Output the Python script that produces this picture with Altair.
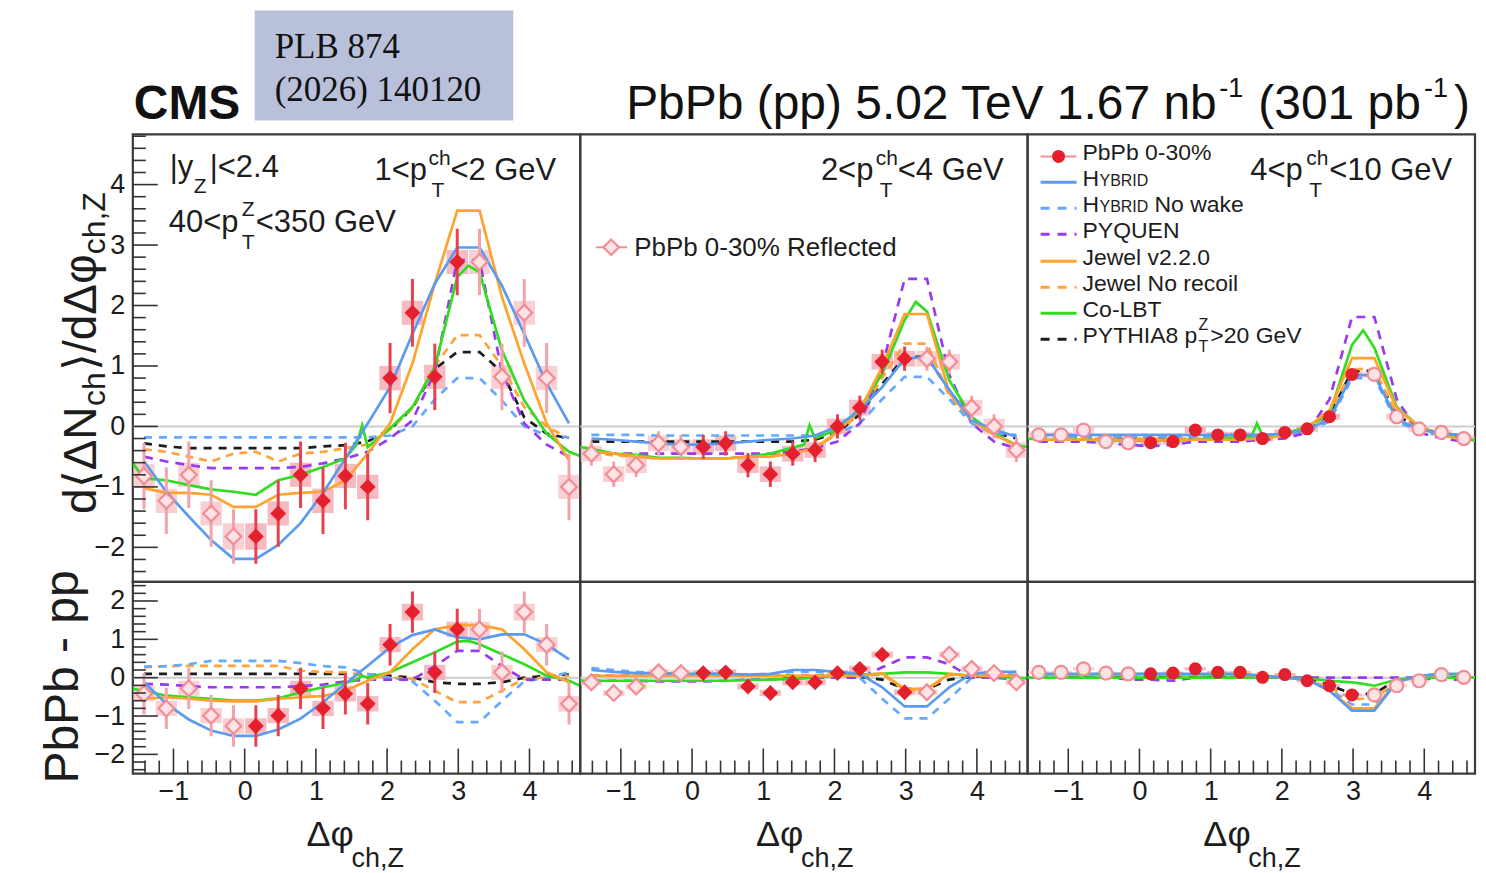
import math
import altair as alt
import pandas as pd

FONT = "Liberation Sans"
SERIF = "Liberation Serif"
INK = "#1d1d1d"

# ---------------------------------------------------------------- data
# measured bins (0..pi), model grid (full range) and Co-LBT grid
BINS = [0.157, 0.471, 0.785, 1.100, 1.414, 1.728, 2.042, 2.356, 2.670, 2.985]
GRID = [-1.414, -1.100, -0.785, -0.471, -0.157, 0.157, 0.471, 0.785, 1.100, 1.414,
        1.728, 2.042, 2.356, 2.670, 2.985, 3.299, 3.613, 3.927, 4.241, 4.555]
CGRID = [-1.571, -1.414, -1.100, -0.785, -0.471, -0.157, 0.157, 0.471, 0.785, 1.100,
         1.414, 1.571, 1.650, 1.728, 2.042, 2.356, 2.670, 2.985, 3.142, 3.299,
         3.613, 3.927, 4.241, 4.555, 4.712]

# ---- top row, 1 < pT < 2 GeV
P1_DATA = [-1.82, -1.44, -0.80, -1.23, -0.82, -1.00, 0.80, 1.88, 0.82, 2.72]
P1_STAT = [0.45, 0.55, 0.55, 0.55, 0.55, 0.55, 0.58, 0.56, 0.55, 0.55]
P1_SYS = [0.22, 0.20, 0.20, 0.20, 0.20, 0.20, 0.20, 0.20, 0.20, 0.20]
P1_HYB = [-0.58, -1.08, -1.49, -1.88, -2.19, -2.19, -1.96, -1.60, -1.10, -0.53,
          0.05, 0.65, 1.53, 2.36, 2.96, 2.96, 2.33, 1.53, 0.71, 0.05]
P1_NOW = [-0.18, -0.18, -0.18, -0.18, -0.18, -0.18, -0.18, -0.18, -0.18, -0.18,
          -0.18, -0.15, 0.00, 0.45, 0.80, 0.80, 0.43, 0.00, -0.15, -0.18]
P1_PYQ = [-0.50, -0.58, -0.64, -0.69, -0.69, -0.69, -0.69, -0.67, -0.61, -0.53,
          -0.42, -0.20, 0.10, 0.90, 2.75, 2.75, 0.90, 0.05, -0.30, -0.50]
P1_JEW = [-1.02, -1.10, -1.10, -1.13, -1.33, -1.33, -1.13, -1.10, -1.08, -0.89,
          -0.45, 0.05, 1.04, 2.36, 3.57, 3.57, 2.14, 1.04, 0.05, -0.56]
P1_JNR = [-0.38, -0.42, -0.50, -0.58, -0.45, -0.42, -0.58, -0.45, -0.42, -0.36,
          -0.30, -0.05, 0.30, 1.00, 1.51, 1.51, 1.00, 0.32, 0.00, -0.20]
P1_PY8 = [-0.28, -0.33, -0.36, -0.36, -0.36, -0.36, -0.36, -0.36, -0.33, -0.31,
          -0.25, -0.05, 0.30, 0.95, 1.23, 1.23, 0.90, 0.15, -0.12, -0.20]
P1_CLBT = [-0.61, -0.86, -0.89, -0.97, -1.04, -1.08, -1.13, -0.89, -0.80, -0.67,
           -0.53, -0.30, 0.02, -0.34, -0.03, 0.32, 0.98, 2.47, 2.66, 2.55,
           1.26, 0.43, -0.12, -0.42, -0.49]

# ---- top row, 2 < pT < 4 GeV
P2_DATA = [-0.34, -0.28, -0.64, -0.79, -0.45, -0.39, 0.00, 0.31, 1.07, 1.12]
P2_STAT = [0.20, 0.20, 0.20, 0.21, 0.20, 0.20, 0.20, 0.20, 0.20, 0.20]
P2_SYS = [0.13, 0.13, 0.13, 0.13, 0.13, 0.13, 0.13, 0.13, 0.13, 0.13]
P2_HYB = [-0.20, -0.22, -0.25, -0.28, -0.30, -0.30, -0.28, -0.25, -0.22, -0.20,
          -0.15, 0.00, 0.27, 0.65, 1.12, 1.15, 0.60, 0.10, -0.05, -0.17]
P2_NOW = [-0.14, -0.14, -0.14, -0.15, -0.15, -0.15, -0.15, -0.15, -0.15, -0.15,
          -0.15, -0.12, 0.05, 0.45, 0.82, 0.82, 0.45, 0.05, -0.12, -0.14]
P2_PYQ = [-0.42, -0.45, -0.45, -0.45, -0.45, -0.45, -0.45, -0.45, -0.45, -0.42,
          -0.36, -0.25, 0.05, 0.98, 2.44, 2.44, 0.85, 0.05, -0.25, -0.36]
P2_JEW = [-0.42, -0.45, -0.50, -0.53, -0.53, -0.53, -0.53, -0.50, -0.50, -0.45,
          -0.36, -0.09, 0.27, 0.98, 1.86, 1.86, 0.55, 0.10, -0.14, -0.31]
P2_JNR = [-0.42, -0.48, -0.50, -0.53, -0.53, -0.53, -0.53, -0.50, -0.48, -0.42,
          -0.36, -0.12, 0.22, 0.80, 1.37, 1.37, 0.50, 0.08, -0.14, -0.30]
P2_PY8 = [-0.25, -0.25, -0.25, -0.25, -0.25, -0.25, -0.25, -0.25, -0.25, -0.25,
          -0.22, -0.10, 0.20, 0.70, 1.15, 1.15, 0.60, 0.10, -0.10, -0.20]
P2_CLBT = [-0.34, -0.37, -0.45, -0.47, -0.52, -0.52, -0.53, -0.53, -0.50, -0.45,
           -0.35, -0.30, 0.02, -0.20, -0.05, 0.30, 0.87, 1.76, 2.06, 1.90,
           0.76, 0.16, -0.12, -0.31, -0.34]

# ---- top row, 4 < pT < 10 GeV
P3_DATA = [-0.27, -0.25, -0.06, -0.14, -0.14, -0.20, -0.10, -0.04, 0.16, 0.86]
P3_STAT = [0.06, 0.06, 0.06, 0.06, 0.06, 0.06, 0.06, 0.06, 0.06, 0.06]
P3_SYS = [0.05, 0.05, 0.05, 0.05, 0.05, 0.05, 0.05, 0.05, 0.05, 0.05]
P3_HYB = [-0.14, -0.14, -0.14, -0.14, -0.14, -0.14, -0.14, -0.14, -0.14, -0.14,
          -0.14, -0.12, -0.05, 0.12, 0.85, 0.85, 0.12, -0.05, -0.12, -0.14]
P3_NOW = [-0.17, -0.17, -0.17, -0.17, -0.17, -0.17, -0.17, -0.17, -0.17, -0.17,
          -0.17, -0.15, -0.08, 0.08, 0.80, 0.80, 0.08, -0.08, -0.15, -0.17]
P3_PYQ = [-0.25, -0.25, -0.25, -0.28, -0.30, -0.33, -0.30, -0.25, -0.25, -0.25,
          -0.22, -0.20, -0.10, 0.45, 1.81, 1.81, 0.45, -0.10, -0.20, -0.25]
P3_JEW = [-0.22, -0.22, -0.22, -0.22, -0.22, -0.22, -0.22, -0.22, -0.22, -0.22,
          -0.20, -0.15, -0.02, 0.27, 1.13, 1.13, 0.30, 0.00, -0.15, -0.22]
P3_JNR = [-0.20, -0.20, -0.20, -0.20, -0.20, -0.20, -0.20, -0.20, -0.20, -0.20,
          -0.18, -0.14, -0.03, 0.20, 0.95, 0.95, 0.20, -0.03, -0.14, -0.20]
P3_PY8 = [-0.18, -0.18, -0.18, -0.18, -0.18, -0.18, -0.18, -0.18, -0.18, -0.18,
          -0.17, -0.12, -0.02, 0.18, 0.92, 0.92, 0.18, -0.02, -0.12, -0.18]
P3_CLBT = [-0.20, -0.22, -0.22, -0.22, -0.23, -0.23, -0.23, -0.23, -0.22, -0.20,
           -0.18, -0.17, 0.05, -0.15, -0.12, 0.00, 0.21, 1.35, 1.59, 1.30,
           0.32, 0.00, -0.15, -0.20, -0.23]

# ---- bottom row (PbPb - pp), 1 < pT < 2 GeV
P4_DATA = [-1.26, -0.99, -0.28, -0.80, -0.42, -0.68, 0.86, 1.71, 0.14, 1.26]
P4_STAT = [0.54, 0.54, 0.54, 0.54, 0.54, 0.54, 0.54, 0.54, 0.54, 0.54]
P4_SYS = [0.20, 0.20, 0.20, 0.20, 0.20, 0.20, 0.20, 0.22, 0.20, 0.20]
P4_HYB = [-0.12, -0.68, -1.09, -1.38, -1.52, -1.52, -1.35, -1.07, -0.64, -0.16,
          0.31, 0.79, 1.11, 1.26, 1.05, 1.00, 1.13, 1.13, 0.87, 0.48]
P4_NOW = [0.29, 0.30, 0.35, 0.44, 0.44, 0.44, 0.44, 0.38, 0.30, 0.27,
          0.10, 0.00, -0.10, -0.60, -1.16, -1.16, -0.60, -0.10, 0.00, 0.14]
P4_PYQ = [-0.16, -0.18, -0.22, -0.25, -0.25, -0.25, -0.25, -0.22, -0.18, -0.10,
          -0.05, -0.05, -0.05, 0.30, 0.70, 0.70, 0.30, -0.05, -0.05, -0.05]
P4_JEW = [-0.55, -0.51, -0.55, -0.60, -0.62, -0.62, -0.55, -0.51, -0.48, -0.34,
          -0.08, 0.14, 0.74, 1.26, 1.37, 1.37, 1.26, 0.74, 0.14, -0.12]
P4_JNR = [0.27, 0.30, 0.31, 0.31, 0.31, 0.31, 0.31, 0.18, 0.15, 0.14,
          0.05, 0.00, -0.03, -0.34, -0.64, -0.64, -0.34, -0.03, 0.00, 0.05]
P4_PY8 = [0.10, 0.10, 0.10, 0.10, 0.10, 0.10, 0.10, 0.10, 0.10, 0.10,
          0.08, 0.05, 0.00, -0.12, -0.16, -0.16, -0.12, 0.00, 0.05, 0.08]
P4_CLBT = [-0.29, -0.34, -0.47, -0.51, -0.55, -0.60, -0.60, -0.54, -0.38, -0.25,
           -0.14, -0.05, 0.05, 0.00, 0.14, 0.40, 0.66, 0.94, 0.96, 0.87,
           0.61, 0.35, 0.05, -0.08, -0.21]

# ---- bottom row, 2 < pT < 4 GeV
P5_DATA = [0.12, 0.14, -0.23, -0.40, -0.12, -0.12, 0.12, 0.23, 0.60, -0.38]
P5_STAT = [0.10, 0.10, 0.10, 0.10, 0.10, 0.10, 0.10, 0.10, 0.10, 0.10]
P5_SYS = [0.08, 0.08, 0.08, 0.08, 0.08, 0.08, 0.08, 0.08, 0.08, 0.08]
P5_HYB = [0.20, 0.15, 0.12, 0.12, 0.10, 0.10, 0.10, 0.08, 0.10, 0.20,
          0.20, 0.15, 0.10, -0.25, -0.75, -0.75, -0.25, 0.10, 0.15, 0.15]
P5_NOW = [0.25, 0.20, 0.15, 0.12, 0.10, 0.10, 0.10, 0.08, 0.10, 0.15,
          0.15, 0.12, 0.00, -0.55, -1.06, -1.06, -0.55, 0.00, 0.10, 0.15]
P5_PYQ = [-0.08, -0.08, -0.08, -0.10, -0.10, -0.10, -0.08, -0.05, -0.05, 0.00,
          0.00, 0.00, 0.00, 0.27, 0.53, 0.53, 0.35, 0.00, 0.00, -0.05]
P5_JEW = [0.05, 0.05, 0.05, 0.05, 0.05, 0.05, 0.05, 0.05, 0.05, 0.05,
          0.05, 0.05, 0.05, 0.12, -0.29, -0.29, 0.10, 0.05, 0.05, 0.05]
P5_JNR = [0.05, 0.05, 0.05, 0.05, 0.05, 0.05, 0.05, 0.05, 0.05, 0.05,
          0.05, 0.05, 0.05, 0.08, -0.32, -0.32, 0.08, 0.05, 0.05, 0.05]
P5_PY8 = [0.05, 0.05, 0.05, 0.05, 0.05, 0.05, 0.05, 0.05, 0.05, 0.05,
          0.05, 0.05, 0.02, -0.05, -0.30, -0.30, -0.05, 0.02, 0.05, 0.05]
P5_CLBT = [-0.08, -0.08, -0.08, -0.08, -0.08, -0.08, -0.08, -0.08, -0.06, -0.05,
           -0.03, -0.02, 0.00, 0.00, 0.05, 0.08, 0.10, 0.14, 0.14, 0.14,
           0.10, 0.05, 0.02, 0.00, -0.02]

# ---- bottom row, 4 < pT < 10 GeV
P6_DATA = [0.10, 0.12, 0.23, 0.14, 0.14, 0.01, 0.08, -0.08, -0.21, -0.45]
P6_STAT = [0.04, 0.04, 0.04, 0.04, 0.04, 0.04, 0.04, 0.04, 0.04, 0.05]
P6_SYS = [0.04, 0.04, 0.04, 0.04, 0.04, 0.04, 0.04, 0.04, 0.04, 0.04]
P6_HYB = [0.10, 0.10, 0.10, 0.10, 0.10, 0.10, 0.10, 0.10, 0.10, 0.10,
          0.05, 0.00, -0.05, -0.34, -0.86, -0.86, -0.12, 0.05, 0.10, 0.10]
P6_NOW = [0.08, 0.08, 0.08, 0.08, 0.08, 0.08, 0.08, 0.08, 0.08, 0.08,
          0.05, 0.00, -0.05, -0.30, -0.70, -0.70, -0.10, 0.05, 0.08, 0.08]
P6_PYQ = [0.05, 0.05, 0.05, 0.02, -0.05, -0.05, -0.08, 0.00, 0.02, 0.02,
          0.00, 0.00, 0.00, 0.00, 0.00, 0.00, 0.00, 0.00, -0.05, -0.05]
P6_JEW = [0.08, 0.08, 0.08, 0.08, 0.08, 0.08, 0.08, 0.08, 0.08, 0.08,
          0.05, 0.00, -0.05, -0.34, -0.80, -0.80, -0.12, 0.05, 0.08, 0.08]
P6_JNR = [0.08, 0.08, 0.08, 0.08, 0.08, 0.08, 0.08, 0.08, 0.08, 0.08,
          0.05, 0.00, -0.05, -0.25, -0.55, -0.55, -0.10, 0.05, 0.08, 0.08]
P6_PY8 = [0.05, 0.05, 0.05, 0.05, 0.05, 0.05, 0.05, 0.05, 0.05, 0.05,
          0.05, 0.02, -0.02, -0.20, -0.42, -0.42, -0.05, 0.02, 0.05, 0.05]
P6_CLBT = [0.00, 0.00, 0.00, 0.00, 0.00, 0.00, 0.00, 0.00, 0.00, 0.00,
           0.00, 0.00, 0.02, 0.00, 0.00, -0.02, -0.08, -0.12, -0.16, -0.21,
           -0.05, 0.00, 0.00, 0.00, 0.00]

PANELS = [
    dict(data=P1_DATA, stat=P1_STAT, sys=P1_SYS, HYB=P1_HYB, NOW=P1_NOW, PYQ=P1_PYQ,
         JEW=P1_JEW, JNR=P1_JNR, PY8=P1_PY8, CLBT=P1_CLBT),
    dict(data=P2_DATA, stat=P2_STAT, sys=P2_SYS, HYB=P2_HYB, NOW=P2_NOW, PYQ=P2_PYQ,
         JEW=P2_JEW, JNR=P2_JNR, PY8=P2_PY8, CLBT=P2_CLBT),
    dict(data=P3_DATA, stat=P3_STAT, sys=P3_SYS, HYB=P3_HYB, NOW=P3_NOW, PYQ=P3_PYQ,
         JEW=P3_JEW, JNR=P3_JNR, PY8=P3_PY8, CLBT=P3_CLBT),
    dict(data=P4_DATA, stat=P4_STAT, sys=P4_SYS, HYB=P4_HYB, NOW=P4_NOW, PYQ=P4_PYQ,
         JEW=P4_JEW, JNR=P4_JNR, PY8=P4_PY8, CLBT=P4_CLBT),
    dict(data=P5_DATA, stat=P5_STAT, sys=P5_SYS, HYB=P5_HYB, NOW=P5_NOW, PYQ=P5_PYQ,
         JEW=P5_JEW, JNR=P5_JNR, PY8=P5_PY8, CLBT=P5_CLBT),
    dict(data=P6_DATA, stat=P6_STAT, sys=P6_SYS, HYB=P6_HYB, NOW=P6_NOW, PYQ=P6_PYQ,
         JEW=P6_JEW, JNR=P6_JNR, PY8=P6_PY8, CLBT=P6_CLBT),
]

STYLE = {
    "PY8": ("#1c1c1c", [8, 7]),
    "JNR": ("#ffa43c", [8, 6]),
    "NOW": ("#62a9ff", [8, 7]),
    "PYQ": ("#9a3af0", [9, 7]),
    "CLBT": ("#30dd22", None),
    "JEW": ("#ffa22e", None),
    "HYB": ("#5b9bef", None),
}
ORDER = ["PY8", "JNR", "NOW", "PYQ", "CLBT", "JEW", "HYB"]

# ---------------------------------------------------------------- layout
XDOM = [-math.pi / 2, 3 * math.pi / 2]
TOP_DOM = [-2.57, 4.83]
BOT_DOM = [-2.5, 2.5]
W, HT, HB = 448, 448, 192
ORG = [(131, 132), (579, 132), (1027, 132), (131, 580), (579, 580), (1027, 580)]
ONE = pd.DataFrame({"k": [0]})

RED = "#e41f2e"
PINK_LINE = "#f28c95"


def T(text, px, py, org, size, font=FONT, color=INK, align="left", angle=0, weight="normal"):
    return alt.Chart(ONE).mark_text(
        text=text, font=font, fontSize=size, color=color, align=align,
        baseline="alphabetic", angle=angle, fontWeight=weight
    ).encode(x=alt.value(px - org[0]), y=alt.value(py - org[1]))


def HL(x1, x2, py, org, color, width=2.6, dash=None):
    kw = dict(color=color, strokeWidth=width)
    if dash:
        kw["strokeDash"] = dash
    return alt.Chart(ONE).mark_rule(**kw).encode(
        x=alt.value(x1 - org[0]), x2=alt.value(x2 - org[0]), y=alt.value(py - org[1]))


def SYM(px, py, org, shape, size, fill, stroke, sw=0.0):
    return alt.Chart(ONE).mark_point(
        shape=shape, size=size, filled=True, fill=fill, stroke=stroke,
        strokeWidth=sw, opacity=1
    ).encode(x=alt.value(px - org[0]), y=alt.value(py - org[1]))


def panel(i, ydom, h, show_x, show_y, marker, msize, extras):
    vals = PANELS[i]
    xs = alt.Scale(domain=XDOM, nice=False, zero=False)
    ys = alt.Scale(domain=ydom, nice=False, zero=False)
    ymaj = [v for v in [-2, -1, 0, 1, 2, 3, 4] if ydom[0] < v < ydom[1]]
    ax_x = alt.Axis(values=[-1, 0, 1, 2, 3, 4], title=None, labelFont=FONT,
                    labelFontSize=27, labelColor=INK, ticks=False, tickSize=0,
                    domain=False, grid=False, labelPadding=5, labelOverlap=False,
                    labelFlush=False) if show_x else None
    ax_y = alt.Axis(values=ymaj, title=None, labelFont=FONT, labelFontSize=27,
                    labelColor=INK, ticks=False, tickSize=0, domain=False, grid=False,
                    labelPadding=8, labelOverlap=False, labelFlush=False) if show_y else None

    def X(f):
        return alt.X(f, type="quantitative", scale=xs, axis=ax_x)

    def Y(f):
        return alt.Y(f, type="quantitative", scale=ys, axis=ax_y)

    d, st, sy = vals["data"], vals["stat"], vals["sys"]
    refx = [-b for b in BINS[:5]] + [round(2 * math.pi - b, 3) for b in BINS[5:]]

    def frame(xv):
        return pd.DataFrame({
            "x": xv, "y": d,
            "lo": [a - b for a, b in zip(d, st)], "hi": [a + b for a, b in zip(d, st)],
            "xl": [x - 0.15 for x in xv], "xr": [x + 0.15 for x in xv],
            "sl": [a - b for a, b in zip(d, sy)], "sh": [a + b for a, b in zip(d, sy)],
        })

    filled, refl = frame(BINS), frame(refx)
    layers = []
    layers.append(alt.Chart(pd.DataFrame({"z": [0.0]})).mark_rule(
        color="#cdcdcd", strokeWidth=2).encode(y=Y("z")))
    layers.append(alt.Chart(refl).mark_rect(color="#f8c6cb", opacity=0.8, clip=True).encode(
        x=X("xl"), x2="xr", y=Y("sl"), y2="sh"))
    layers.append(alt.Chart(filled).mark_rect(color="#f4a9b0", opacity=0.8, clip=True).encode(
        x=X("xl"), x2="xr", y=Y("sl"), y2="sh"))
    for key in ORDER:
        color, dash = STYLE[key]
        xv = CGRID if key == "CLBT" else GRID
        kw = dict(color=color, strokeWidth=2.7, clip=True)
        if dash:
            kw["strokeDash"] = dash
        layers.append(alt.Chart(pd.DataFrame({"x": xv, "y": vals[key]})).mark_line(**kw).encode(
            x=X("x"), y=Y("y")))
    layers.append(alt.Chart(refl).mark_rule(color="#f5a3aa", strokeWidth=3, clip=True).encode(
        x=X("x"), y=Y("lo"), y2="hi"))
    layers.append(alt.Chart(filled).mark_rule(color="#e6434e", strokeWidth=3, clip=True).encode(
        x=X("x"), y=Y("lo"), y2="hi"))
    layers.append(alt.Chart(refl).mark_point(
        shape=marker, size=msize, filled=True, fill="#fde3e6", stroke=PINK_LINE,
        strokeWidth=2.2, opacity=1).encode(x=X("x"), y=Y("y")))
    layers.append(alt.Chart(filled).mark_point(
        shape=marker, size=msize, filled=True, color=RED, opacity=1).encode(x=X("x"), y=Y("y")))

    # inward ticks (ROOT style)
    if show_y:
        minor = [round(-2.4 + 0.2 * k, 1) for k in range(40)]
        minor = [v for v in minor if ydom[0] < v < ydom[1] and abs(v - round(v)) > 0.01]
        layers.append(alt.Chart(pd.DataFrame({"v": ymaj})).mark_rule(
            color="#333333", strokeWidth=1.6).encode(y=Y("v"), x=alt.value(0), x2=alt.value(25)))
        layers.append(alt.Chart(pd.DataFrame({"v": minor})).mark_rule(
            color="#333333", strokeWidth=1.6).encode(y=Y("v"), x=alt.value(0), x2=alt.value(13)))
    if show_x:
        minor = [round(-1.4 + 0.2 * k, 1) for k in range(31)]
        minor = [v for v in minor if abs(v - round(v)) > 0.01]
        layers.append(alt.Chart(pd.DataFrame({"v": [-1, 0, 1, 2, 3, 4]})).mark_rule(
            color="#333333", strokeWidth=1.6).encode(x=X("v"), y=alt.value(h), y2=alt.value(h - 25)))
        layers.append(alt.Chart(pd.DataFrame({"v": minor})).mark_rule(
            color="#333333", strokeWidth=1.6).encode(x=X("v"), y=alt.value(h), y2=alt.value(h - 13)))
    layers.extend(extras)
    return alt.layer(*layers).properties(width=W, height=h)


# ---------------------------------------------------------------- annotations
o1, o2, o3, o4, o5, o6 = ORG
PT = 31   # panel text size
SS = 21   # sub/superscript size

ex1 = [
    alt.Chart(ONE).mark_rule(color="white", strokeWidth=1).encode(
        x=alt.value(8 - o1[0]), y=alt.value(300), y2=alt.value(301)),
    alt.Chart(ONE).mark_rect(color="#b9c1da").encode(
        x=alt.value(253 - o1[0]), x2=alt.value(512 - o1[0]),
        y=alt.value(8 - o1[1]), y2=alt.value(118 - o1[1])),
    T("PLB 874", 273, 55, o1, 35, font=SERIF, color="#111111"),
    T("(2026) 140120", 273, 99, o1, 35, font=SERIF, color="#111111"),
    T("CMS", 132, 117, o1, 48, weight="bold", color="#111111"),
    T("PbPb (pp) 5.02 TeV 1.67 nb", 625, 117, o1, 48, color="#111111"),
    T("-1", 1219, 95, o1, 27, color="#111111"),
    T("(301 pb", 1258, 117, o1, 48, color="#111111"),
    T("-1", 1424, 95, o1, 27, color="#111111"),
    T(")", 1454, 117, o1, 48, color="#111111"),
    # y title (rotated)
    T("d\u27e8\u0394N", 94, 512, o1, 46, angle=270),
    T("ch", 103, 404, o1, 32, angle=270),
    T("\u27e9/d\u0394\u03c6", 94, 369, o1, 46, angle=270),
    T("ch,Z", 103, 252, o1, 32, angle=270),
    # panel texts
    T("|y", 168, 175, o1, PT),
    T("Z", 192, 191, o1, SS),
    T("|<2.4", 208, 175, o1, PT),
    T("40<p", 167, 230, o1, PT),
    T("Z", 240, 214, o1, SS),
    T("T", 240, 247, o1, SS),
    T("<350 GeV", 254, 230, o1, PT),
    T("1<p", 373, 178, o1, PT),
    T("ch", 427, 163, o1, SS),
    T("T", 430, 195, o1, SS),
    T("<2 GeV", 449, 178, o1, PT),
]

ex2 = [
    T("2<p", 820, 178, o2, PT),
    T("ch", 875, 163, o2, SS),
    T("T", 879, 195, o2, SS),
    T("<4 GeV", 897, 178, o2, PT),
    HL(595, 626, 245, o2, PINK_LINE, width=2),
    SYM(610, 245, o2, "diamond", 240, "#fde3e6", PINK_LINE, 2.2),
    T("PbPb 0-30% Reflected", 633, 254, o2, 26),
]

LEG_Y = [154, 180, 206, 232, 259, 285, 311, 337]
LF = 23
LX1, LX2, LT = 1040, 1076, 1082
ex3 = [
    T("4<p", 1250, 178, o3, PT),
    T("ch", 1306, 163, o3, SS),
    T("T", 1309, 195, o3, SS),
    T("<10 GeV", 1329, 178, o3, PT),
    HL(LX1, LX2, LEG_Y[0], o3, PINK_LINE, width=2),
    SYM(1058, LEG_Y[0], o3, "circle", 170, RED, RED),
    T("PbPb 0-30%", LT, LEG_Y[0] + 4, o3, LF),
    HL(LX1, LX2, LEG_Y[1], o3, STYLE["HYB"][0], width=3),
    T("H", LT, LEG_Y[1] + 4, o3, LF),
    T("YBRID", LT + 17, LEG_Y[1] + 4, o3, 16),
    HL(LX1, LX2, LEG_Y[2], o3, STYLE["NOW"][0], width=3, dash=[9, 8]),
    T("H", LT, LEG_Y[2] + 4, o3, LF),
    T("YBRID", LT + 17, LEG_Y[2] + 4, o3, 16),
    T("No wake", 1154, LEG_Y[2] + 4, o3, LF),
    HL(LX1, LX2, LEG_Y[3], o3, STYLE["PYQ"][0], width=3, dash=[9, 8]),
    T("PYQUEN", LT, LEG_Y[3] + 4, o3, LF),
    HL(LX1, LX2, LEG_Y[4], o3, STYLE["JEW"][0], width=3),
    T("Jewel v2.2.0", LT, LEG_Y[4] + 4, o3, LF),
    HL(LX1, LX2, LEG_Y[5], o3, STYLE["JNR"][0], width=3, dash=[9, 8]),
    T("Jewel No recoil", LT, LEG_Y[5] + 4, o3, LF),
    HL(LX1, LX2, LEG_Y[6], o3, STYLE["CLBT"][0], width=3),
    T("Co-LBT", LT, LEG_Y[6] + 4, o3, LF),
    HL(LX1, LX2, LEG_Y[7], o3, STYLE["PY8"][0], width=3, dash=[9, 8]),
    T("PYTHIA8 p", LT, LEG_Y[7] + 4, o3, LF),
    T("Z", 1198, LEG_Y[7] - 9, o3, 16),
    T("T", 1198, LEG_Y[7] + 13, o3, 16),
    T(">20 GeV", 1210, LEG_Y[7] + 4, o3, LF),
]

ex4 = [
    T("PbPb - pp", 76, 782, o4, 48, angle=270),
    T("\u0394\u03c6", 305, 845, o4, 36),
    T("ch,Z", 350, 866, o4, 27),
]
ex5 = [
    T("\u0394\u03c6", 755, 845, o5, 36),
    T("ch,Z", 800, 866, o5, 27),
]
ex6 = [
    T("\u0394\u03c6", 1203, 845, o6, 36),
    T("ch,Z", 1248, 866, o6, 27),
]

p1 = panel(0, TOP_DOM, HT, False, True, "diamond", 250, ex1)
p2 = panel(1, TOP_DOM, HT, False, False, "diamond", 250, ex2)
p3 = panel(2, TOP_DOM, HT, False, False, "circle", 170, ex3)
p4 = panel(3, BOT_DOM, HB, True, True, "diamond", 250, ex4)
p5 = panel(4, BOT_DOM, HB, True, False, "diamond", 250, ex5)
p6 = panel(5, BOT_DOM, HB, True, False, "circle", 170, ex6)

chart = alt.concat(p1, p2, p3, p4, p5, p6, columns=3, spacing=0, bounds="flush").resolve_scale(
    x="independent", y="independent"
).properties(padding=0, background="white").configure_view(
    stroke="#3b3b3b", strokeWidth=2.2
)

chart.save("out.html", embed_options={"renderer": "svg", "actions": False})
